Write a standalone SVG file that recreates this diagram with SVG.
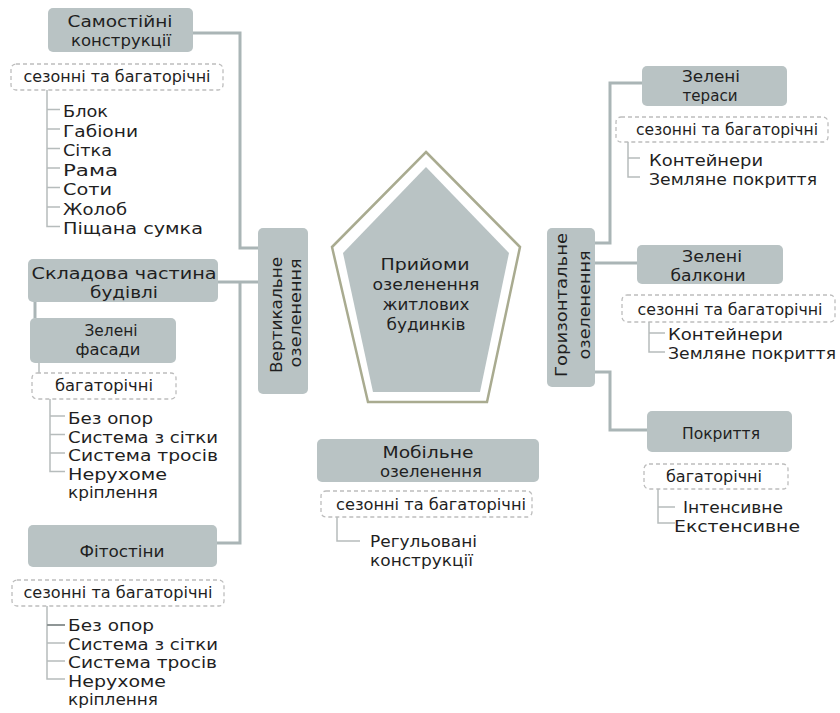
<svg xmlns="http://www.w3.org/2000/svg" width="840" height="713" viewBox="0 0 840 713">
<style>
text{font-family:"DejaVu Sans","Liberation Sans",sans-serif;font-size:16px;fill:#1f1f1f}
.c{text-anchor:middle}
.box{fill:#b9c3c4}
.dash{fill:none;stroke:#bdbdbd;stroke-width:1.3;stroke-dasharray:4 3}
.conn{fill:none;stroke:#aab5b6;stroke-width:3}
.tree{fill:none;stroke:#b6bcbc;stroke-width:1.5}
</style>
<rect width="840" height="713" fill="#ffffff"/>
<g id="connectors">
<path class="conn" d="M193,33 H240 V248 H258"/>
<path class="conn" d="M218,282 H258"/>
<path class="conn" d="M240,282 V543 H217"/>
<path class="conn" d="M35,302 V318"/>
<path class="tree" d="M39,363 V373"/>
<path class="conn" d="M595,243 H610 V83 H642"/>
<path class="conn" d="M595,263 H637"/>
<path class="conn" d="M595,372 H610 V430 H647"/>
</g>
<g id="center">
<polygon points="426,152 520,247 487,402 368,402 332,247" fill="#ffffff" stroke="#a9ab90" stroke-width="2.5"/>
<polygon points="426,167 509,253 480,392 373,392 343,253" fill="#b9c3c4"/>
<text class="c" x="425" y="270" textLength="89" lengthAdjust="spacingAndGlyphs">Прийоми</text>
<text class="c" x="426" y="290" textLength="107" lengthAdjust="spacingAndGlyphs">озеленення</text>
<text class="c" x="426" y="310" textLength="87" lengthAdjust="spacingAndGlyphs">житлових</text>
<text class="c" x="426" y="330" textLength="79" lengthAdjust="spacingAndGlyphs">будинків</text>
</g>
<g id="vertical">
<rect class="box" x="258" y="228" width="50" height="166" rx="5"/>
<text class="c" transform="translate(282,315) rotate(-90)" textLength="116" lengthAdjust="spacingAndGlyphs">Вертикальне</text>
<text class="c" transform="translate(301,313) rotate(-90)" textLength="109" lengthAdjust="spacingAndGlyphs">озеленення</text>
</g>
<g id="horizontal">
<rect class="box" x="547" y="228" width="48" height="159" rx="5"/>
<text class="c" transform="translate(567,305) rotate(-90)" textLength="144" lengthAdjust="spacingAndGlyphs">Горизонтальне</text>
<text class="c" transform="translate(590,305) rotate(-90)" textLength="109" lengthAdjust="spacingAndGlyphs">озеленення</text>
</g>
<g id="samostiyni">
<rect class="box" x="48" y="8" width="145" height="44" rx="5"/>
<text class="c" x="120" y="27" textLength="105" lengthAdjust="spacingAndGlyphs">Самостійні</text>
<text class="c" x="121" y="46" textLength="100" lengthAdjust="spacingAndGlyphs">конструкції</text>
<rect class="dash" x="11" y="64" width="212" height="26" rx="5"/>
<text class="c" x="117" y="82" textLength="187" lengthAdjust="spacingAndGlyphs">сезонні та багаторічні</text>
<path class="tree" d="M47,90 V226.5 H60 M47,109.5 H60 M47,129 H60 M47,148.5 H60 M47,168 H60 M47,187.5 H60 M47,207 H60"/>
<text x="63" y="117" textLength="45" lengthAdjust="spacingAndGlyphs">Блок</text>
<text x="63" y="136.5" textLength="75" lengthAdjust="spacingAndGlyphs">Габіони</text>
<text x="63" y="156" textLength="49" lengthAdjust="spacingAndGlyphs">Сітка</text>
<text x="63" y="175.5" textLength="55" lengthAdjust="spacingAndGlyphs">Рама</text>
<text x="63" y="195" textLength="49" lengthAdjust="spacingAndGlyphs">Соти</text>
<text x="63" y="214.5" textLength="64" lengthAdjust="spacingAndGlyphs">Жолоб</text>
<text x="63" y="234" textLength="140" lengthAdjust="spacingAndGlyphs">Піщана сумка</text>
</g>
<g id="skladova">
<rect class="box" x="28" y="259" width="190" height="43" rx="5"/>
<text class="c" x="124" y="279" textLength="185" lengthAdjust="spacingAndGlyphs">Складова частина</text>
<text class="c" x="124" y="298" textLength="68" lengthAdjust="spacingAndGlyphs">будівлі</text>
</g>
<g id="fasady">
<rect class="box" x="30" y="318" width="146" height="45" rx="5"/>
<text class="c" x="111" y="336" textLength="53" lengthAdjust="spacingAndGlyphs">Зелені</text>
<text class="c" x="108" y="355" textLength="65" lengthAdjust="spacingAndGlyphs">фасади</text>
<rect class="dash" x="32" y="373" width="144" height="26" rx="5"/>
<text class="c" x="104" y="391" textLength="98" lengthAdjust="spacingAndGlyphs">багаторічні</text>
<path class="tree" d="M50,399 V471.5 H65 M50,416 H65 M50,434.5 H65 M50,453 H65"/>
<text x="68" y="424" textLength="85" lengthAdjust="spacingAndGlyphs">Без опор</text>
<text x="68" y="442.6" textLength="150" lengthAdjust="spacingAndGlyphs">Система з сітки</text>
<text x="68" y="461.2" textLength="150" lengthAdjust="spacingAndGlyphs">Система тросів</text>
<text x="68" y="479.8" textLength="99" lengthAdjust="spacingAndGlyphs">Нерухоме</text>
<text x="68" y="498.4" textLength="90" lengthAdjust="spacingAndGlyphs">кріплення</text>
</g>
<g id="fitostiny">
<rect class="box" x="28" y="525" width="189" height="42" rx="5"/>
<text class="c" x="122" y="557" textLength="85" lengthAdjust="spacingAndGlyphs">Фітостіни</text>
<rect class="dash" x="12" y="580" width="212" height="26" rx="5"/>
<text class="c" x="118" y="598" textLength="189" lengthAdjust="spacingAndGlyphs">сезонні та багаторічні</text>
<path class="tree" d="M47,606 V679 H65 M47,643 H65 M47,661 H65"/>
<path d="M47,625 H65" fill="none" stroke="#8f9696" stroke-width="2"/>
<text x="68" y="631" textLength="86" lengthAdjust="spacingAndGlyphs">Без опор</text>
<text x="68" y="649.6" textLength="150" lengthAdjust="spacingAndGlyphs">Система з сітки</text>
<text x="68" y="668.2" textLength="149" lengthAdjust="spacingAndGlyphs">Система тросів</text>
<text x="68" y="686.8" textLength="98" lengthAdjust="spacingAndGlyphs">Нерухоме</text>
<text x="68" y="705.4" textLength="90" lengthAdjust="spacingAndGlyphs">кріплення</text>
</g>
<g id="mobile">
<rect class="box" x="317" y="439" width="222" height="43" rx="5"/>
<text class="c" x="428" y="458" textLength="91" lengthAdjust="spacingAndGlyphs">Мобільне</text>
<text class="c" x="431" y="477" textLength="102" lengthAdjust="spacingAndGlyphs">озеленення</text>
<rect class="dash" x="321" y="491" width="211" height="26" rx="5"/>
<text class="c" x="431" y="510" textLength="190" lengthAdjust="spacingAndGlyphs">сезонні та багаторічні</text>
<path class="tree" d="M337,517 V541 H360"/>
<text x="370" y="547" textLength="107" lengthAdjust="spacingAndGlyphs">Регульовані</text>
<text x="370" y="566" textLength="103" lengthAdjust="spacingAndGlyphs">конструкції</text>
</g>
<g id="terasy">
<rect class="box" x="642" y="66" width="145" height="40" rx="5"/>
<text class="c" x="711" y="82" textLength="58" lengthAdjust="spacingAndGlyphs">Зелені</text>
<text class="c" x="710" y="101" textLength="55" lengthAdjust="spacingAndGlyphs">тераси</text>
<rect class="dash" x="616" y="117" width="212" height="25" rx="5"/>
<text class="c" x="727" y="135" textLength="182" lengthAdjust="spacingAndGlyphs">сезонні та багаторічні</text>
<path class="tree" d="M628,142 V177 H640 M628,158 H640"/>
<text x="649" y="166" textLength="114" lengthAdjust="spacingAndGlyphs">Контейнери</text>
<text x="649" y="184.6" textLength="168" lengthAdjust="spacingAndGlyphs">Земляне покриття</text>
</g>
<g id="balkony">
<rect class="box" x="637" y="245" width="146" height="39" rx="5"/>
<text class="c" x="712" y="262" textLength="60" lengthAdjust="spacingAndGlyphs">Зелені</text>
<text class="c" x="708" y="281" textLength="75" lengthAdjust="spacingAndGlyphs">балкони</text>
<rect class="dash" x="622" y="295" width="213" height="27" rx="5"/>
<text class="c" x="730" y="315" textLength="185" lengthAdjust="spacingAndGlyphs">сезонні та багаторічні</text>
<path class="tree" d="M649,322 V352 H665 M649,333 H665"/>
<text x="668" y="340" textLength="115" lengthAdjust="spacingAndGlyphs">Контейнери</text>
<text x="668" y="359" textLength="168" lengthAdjust="spacingAndGlyphs">Земляне покриття</text>
</g>
<g id="pokryttya">
<rect class="box" x="647" y="411" width="145" height="41" rx="5"/>
<text class="c" x="721" y="439" textLength="78" lengthAdjust="spacingAndGlyphs">Покриття</text>
<rect class="dash" x="644" y="464" width="144" height="25" rx="5"/>
<text class="c" x="714" y="482" textLength="96" lengthAdjust="spacingAndGlyphs">багаторічні</text>
<path class="tree" d="M658,489 V523 H675 M658,507 H675"/>
<text x="683" y="513" textLength="100" lengthAdjust="spacingAndGlyphs">Інтенсивне</text>
<text x="674" y="532" textLength="126" lengthAdjust="spacingAndGlyphs">Екстенсивне</text>
</g>
</svg>
